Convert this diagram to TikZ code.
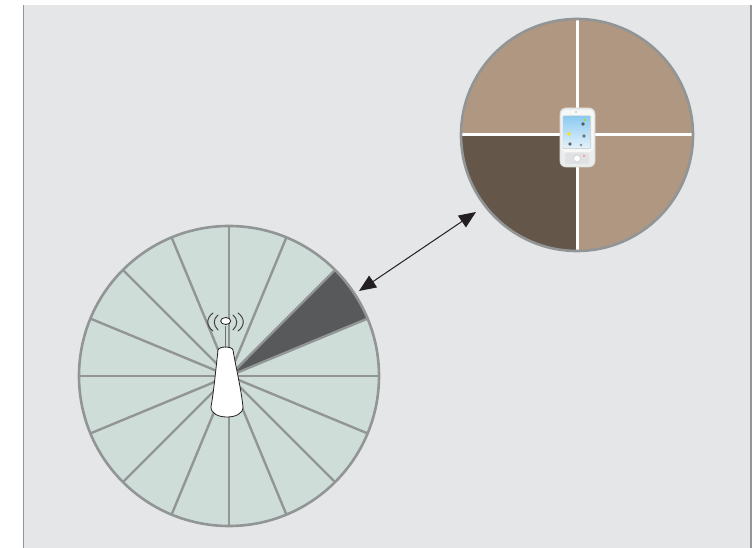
\documentclass[tikz,border=0pt]{standalone}
\usetikzlibrary{arrows.meta,shapes.geometric,calc}
\definecolor{panelbg}{HTML}{E5E6E8}
\definecolor{edgegrey}{HTML}{919596}
\definecolor{cellgreen}{HTML}{CFDDD8}
\definecolor{celldark}{HTML}{58595B}
\definecolor{quadtan}{HTML}{AF9781}
\definecolor{quaddark}{HTML}{65564A}
\definecolor{screenblue}{HTML}{8FCBF0}
\definecolor{inkblack}{HTML}{231F20}
\begin{document}
\begin{tikzpicture}[
  x=1pt, y=1pt,
  spoke/.style={draw=edgegrey, line width=2.4pt},
  rim/.style={draw=edgegrey, line width=2.6pt},
  cross/.style={draw=white, line width=3pt},
  wave/.style={draw=inkblack!85, line width=1pt, line cap=round},
  link/.style={draw=inkblack, line width=1pt, {Triangle[length=17pt,width=14pt]}-{Triangle[length=17pt,width=14pt]}},
  icon/.style={circle, inner sep=0pt, minimum size=3.8pt}
]
\useasboundingbox (0,0) rectangle (754,548);
% panel
\fill[panelbg] (23,0) rectangle (751,543);
\draw[edgegrey, line width=1pt] (23,0) -- (23,543);
\draw[edgegrey, line width=1.2pt] (751,0) -- (751,543);

\coordinate (base) at (229,172);
\coordinate (user) at (577,413);
\coordinate (linka) at (359,257);
\coordinate (linkb) at (476,336);

% base station cell
\fill[cellgreen] (base) circle (150);
\fill[celldark] (235,176) -- ($(base)+(22.5:150)$) arc (22.5:45:150) -- cycle;
\foreach \ang in {0,22.5,...,337.5}
  \draw[spoke] (base) -- ($(base)+(\ang:150)$);
\fill[celldark] (238,177) -- ($(base)+(23.5:149)$) arc (23.5:44:149) -- cycle;
\draw[rim] (base) circle (150);

% tower
\draw[inkblack, line width=0.8pt, fill=white] (218,198)
  .. controls (215,170) and (213,152) .. (211,141)
  .. controls (211,134) and (219,131) .. (227,131)
  .. controls (235,131) and (243,134) .. (243,141)
  .. controls (241,160) and (236,180) .. (233,198)
  .. controls (232,202) and (219,202) .. (218,198) -- cycle;
\draw[edgegrey!75!black, line width=1.5pt] (225.5,200) -- (225.5,222);
\node (antenna) [ellipse, draw=inkblack, line width=0.8pt, fill=white, minimum width=10pt, minimum height=7pt, inner sep=0pt] at (225.7,227) {};
\draw[wave] (213,235) .. controls (206,230) and (206,222) .. (213,217);
\draw[wave] (218,233) .. controls (213,229) and (213,223) .. (218,218);
\draw[wave] (238,235) .. controls (245,230) and (245,222) .. (238,217);
\draw[wave] (233,233) .. controls (238,229) and (238,223) .. (233,218);

% user cell
\fill[quadtan] (user) circle (116);
\fill[quaddark] (user) -- ($(user)+(180:116)$) arc (180:270:116) -- cycle;
\draw[cross] ($(user)+(-116,0)$) -- ($(user)+(116,0)$);
\draw[cross] ($(user)+(0,-116)$) -- ($(user)+(0,116)$);
\draw[rim] (user) circle (116);

% handset
\draw[white!65!edgegrey, line width=0.8pt, fill=white!82!edgegrey, rounded corners=6pt] (560,381) rectangle (595,440);
\fill[white!92!edgegrey, rounded corners=4pt] (561.5,396) rectangle (593.5,438);
\fill[white!60!edgegrey, rounded corners=1pt] (562.5,399) rectangle (591,432.5);
\shade[top color=screenblue, bottom color=white!75!screenblue] (563.5,400) rectangle (590,431);
\node (iconA) [icon, fill=yellow!85!orange] at (569,414) {};
\node (iconB) [icon, fill=black!65] at (583,424) {};
\node (iconC) [icon, fill=black!55] at (584,412) {};
\node (iconD) [icon, fill=black!60] at (570,404) {};
\node (iconE) [icon, fill=black!45, minimum size=2.8pt] at (581,403) {};
\node (iconF) [icon, fill=yellow!70!green, minimum size=2.8pt] at (585,428) {};
\fill[white!72!edgegrey, rounded corners=2pt] (565,384) rectangle (589,395);
\node (padkey) [circle, draw=white!50!edgegrey, fill=white, line width=0.5pt, minimum size=7pt, inner sep=0pt] at (577,389.5) {};
\node (padred) [icon, fill=red!45!white, minimum size=2.4pt] at (584,392) {};
\node (camdot) [icon, fill=white!50!edgegrey, minimum size=2.4pt] at (576,436) {};

% link
\draw[link] (linka) -- (linkb);
\end{tikzpicture}
\end{document}
